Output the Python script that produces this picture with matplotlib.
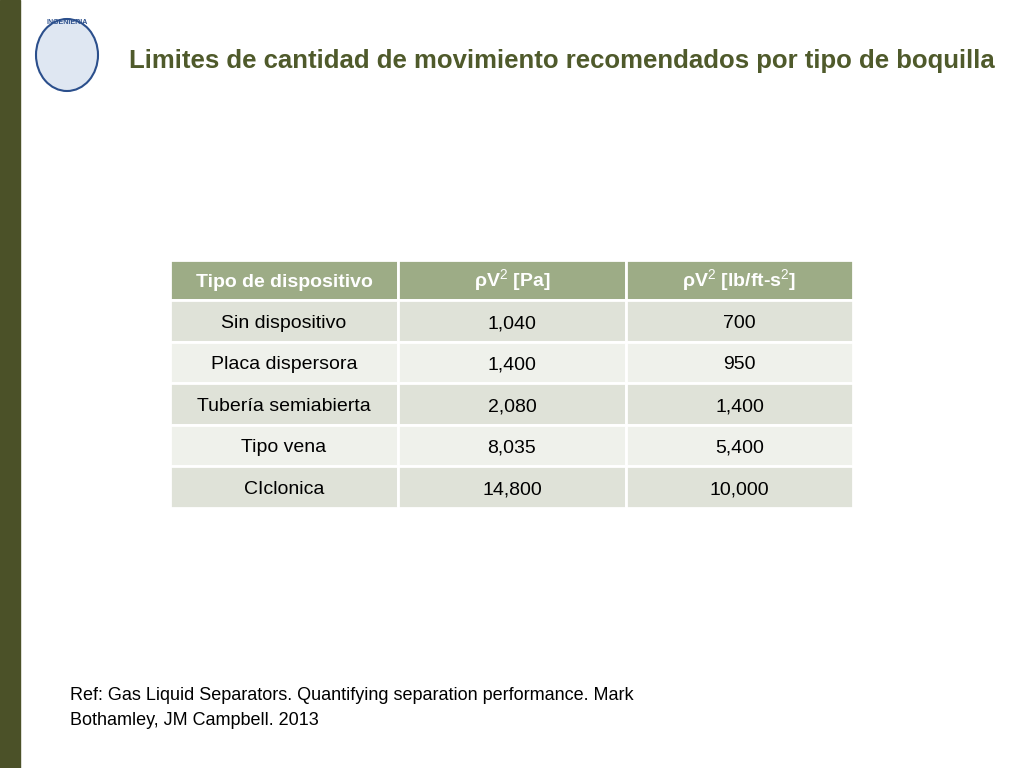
import matplotlib
matplotlib.use("Agg")
import matplotlib.pyplot as plt
from matplotlib.patches import Rectangle, Ellipse

FONT = "Liberation Sans"

title = "Limites de cantidad de movimiento recomendados por tipo de boquilla"
headers = ["Tipo de dispositivo", r"ρV$^2$ [Pa]", r"ρV$^2$ [lb/ft-s$^2$]"]
devices = ["Sin dispositivo", "Placa dispersora", "Tubería semiabierta", "Tipo vena", "CIclonica"]
pa_values = ["1,040", "1,400", "2,080", "8,035", "14,800"]
lb_values = ["700", "950", "1,400", "5,400", "10,000"]
ref_text = "Ref: Gas Liquid Separators. Quantifying separation performance. Mark\nBothamley, JM Campbell. 2013"

plt.rcParams["mathtext.fontset"] = "custom"
plt.rcParams["mathtext.rm"] = FONT
plt.rcParams["mathtext.bf"] = FONT + ":bold"

fig = plt.figure(figsize=(10.24, 7.68), dpi=100)
ax = fig.add_axes([0, 0, 1, 1])
ax.set_xlim(0, 1024)
ax.set_ylim(768, 0)
ax.axis("off")

# left bar
ax.add_patch(Rectangle((0, 0), 20, 768, color="#4b5128"))

# rough logo stand-in
ax.add_patch(Ellipse((67, 55), 62, 72, facecolor="#dfe7f2", edgecolor="#2b4f8c", lw=1.5))
ax.text(67, 22, "INGENIERIA", fontsize=5, fontweight="bold", color="#2b4f8c",
        ha="center", va="center", family=FONT)

ax.text(995, 68, title, fontsize=18.5, fontweight="bold", color="#4f5a2b",
        ha="right", va="baseline", family=FONT)

col_x = [170, 398, 626, 853]
top, head_h, row_h = 260, 40, 41.5

for c in range(3):
    x0, x1 = col_x[c], col_x[c + 1]
    ax.add_patch(Rectangle((x0, top), x1 - x0, head_h, facecolor="#9dac86",
                           edgecolor="white", lw=2))
    ax.text((x0 + x1) / 2, top + head_h / 2 + 7, headers[c], color="white", fontsize=14,
            fontweight="bold", ha="center", va="baseline", family=FONT)

for r in range(len(devices)):
    y = top + head_h + r * row_h
    fc = "#dfe2d8" if r % 2 == 0 else "#eff1eb"
    cells = [devices[r], pa_values[r], lb_values[r]]
    base = round(y + row_h / 2 + 7) + 0.01
    for c in range(3):
        x0, x1 = col_x[c], col_x[c + 1]
        ax.add_patch(Rectangle((x0, y), x1 - x0, row_h, facecolor=fc,
                               edgecolor="white", lw=2))
        ax.text((x0 + x1) / 2, base, cells[c], color="black", fontsize=14,
                ha="center", va="baseline", family=FONT)

ax.text(70, 708, ref_text, fontsize=13, ha="left", va="center",
        family=FONT, linespacing=1.6)

fig.savefig("out.png", dpi=100)
